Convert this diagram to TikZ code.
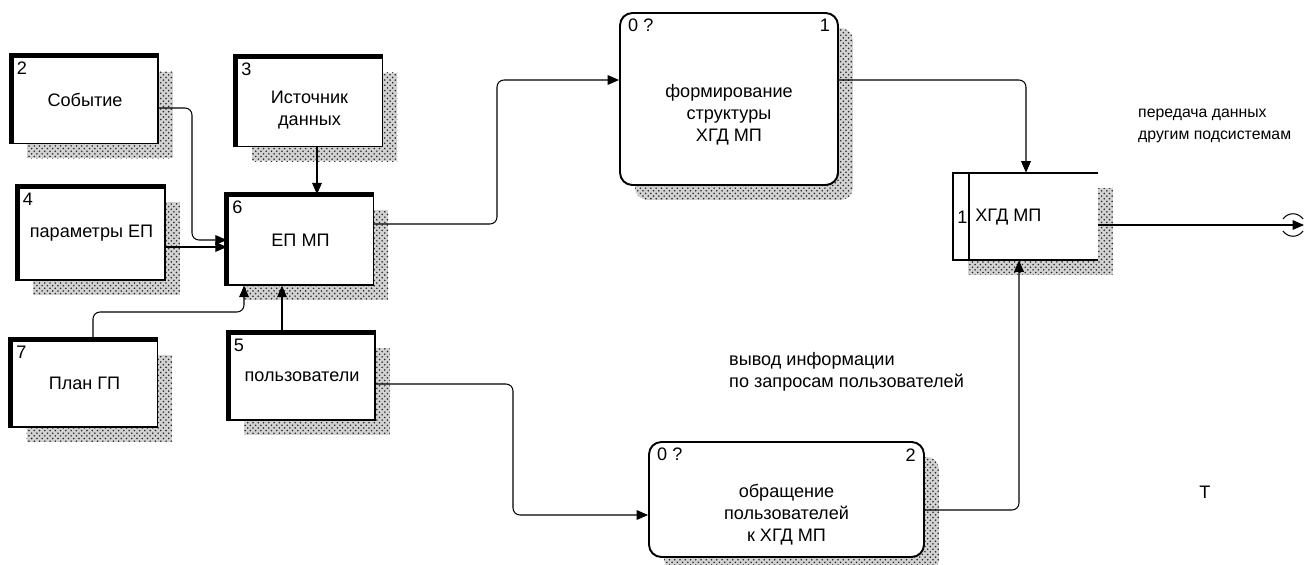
\documentclass[tikz,border=0pt]{standalone}
\usepackage{fontspec}
\setmainfont{Liberation Sans}
\usetikzlibrary{arrows.meta,shadows,patterns}
\begin{document}
\begin{tikzpicture}[x=0.02cm, y=-0.02cm, font=\fontsize{10.3}{12.6}\selectfont,
    shade/.style={drop shadow={opacity=1, shadow xshift=0.3cm, shadow yshift=-0.3cm, fill=gray!35},
                  drop shadow={opacity=1, shadow xshift=0.3cm, shadow yshift=-0.3cm, pattern=crosshatch dots, pattern color=black!85}},
    ext/.style={draw, line width=0.8pt, fill=white, shade, minimum width=2.92cm, minimum height=1.74cm, align=center},
    num/.style={anchor=north west, inner sep=0pt, xshift=3pt, yshift=-3.5pt},
    rnum/.style={anchor=north east, inner sep=0pt, xshift=-5pt, yshift=-4pt},
    proc/.style={draw, line width=1.1pt, rounded corners=7pt, fill=white, shade},
    ptext/.style={align=center, yshift=-0.31cm},
    flow/.style={-{Triangle[length=6.5pt,width=5.5pt]}, line width=0.6pt, rounded corners=4pt}]
\useasboundingbox (0,0) rectangle (1306,565);
% external entities
\node[ext, label={[num]north west:2}] (e2) at (85,100) {Событие};
\node[ext, minimum height=1.78cm, label={[num]north west:3}, label={[align=center, yshift=-0.16cm]center:Источник\\данных}] (e3) at (309.5,102) {};
\node[ext, minimum width=2.94cm, minimum height=1.86cm, label={[num]north west:4}] (e4) at (91.5,233.5) {параметры ЕП};
\node[ext, minimum height=1.8cm, label={[num]north west:6}] (e6) at (300.5,240) {ЕП МП};
\node[ext, label={[num]north west:7}] (e7) at (84.5,383.5) {План ГП};
\node[ext, label={[num]north west:5}] (e5) at (302,376.5) {пользователи};
\foreach \n in {e2,e3,e4,e6,e7,e5}
    \draw[line width=2.7pt] (\n.south west) -- (\n.north west) -- (\n.north east);
% processes
\node[proc, minimum width=4.36cm, minimum height=3.44cm,
      label={[num, xshift=2pt]north west:0 ?}, label={[rnum]north east:1},
      label={[ptext]center:формирование\\структуры\\ ХГД МП}] (p1) at (729,99) {};
\node[proc, minimum width=5.5cm, minimum height=2.3cm,
      label={[num, xshift=2pt]north west:0 ?}, label={[rnum]north east:2},
      label={[ptext]center:обращение\\пользователей\\к ХГД МП}] (p2) at (786.5,499.5) {};
% data store
\node[fill=white, shade, minimum width=2.9cm, minimum height=1.74cm] (ds) at (1025.5,216.5) {};
\draw[line width=1.1pt] (ds.north east) -- (ds.north west) -- (ds.south west) -- (ds.south east);
\draw[line width=1.1pt] ([xshift=0.32cm]ds.north west) -- ([xshift=0.32cm]ds.south west);
\node[anchor=west, inner sep=0pt] (dsn) at (957,217) {1};
\node[anchor=west, inner sep=0pt] (dst) at (975,217) {ХГД МП};
% flows
\draw[flow] (e2.east |- 0,108) -- (192,108) -- (192,240) -- (e6.west |- 0,240);
\draw[flow] (e4.east |- 0,247) -- (e6.west |- 0,247);
\draw[flow] (e3.south -| 317,0) -- (e6.north -| 317,0);
\draw[flow] (e7.north -| 93,0) -- (93,312) -- (244,312) -- (e6.south -| 244,0);
\draw[flow] (e5.north -| 282,0) -- (e6.south -| 282,0);
\draw[flow] (e6.east |- 0,224) -- (497,224) -- (497,80) -- (p1.west |- 0,80);
\draw[flow] (p1.east |- 0,80) -- (1026,80) -- (ds.north -| 1026,0);
\draw[flow] (e5.east |- 0,384) -- (513,384) -- (513,515) -- (p2.west |- 0,515);
\draw[flow] (p2.east |- 0,510) -- (1019,510) -- (ds.south -| 1019,0);
\coordinate (out) at (1304,225);
\draw[flow] (ds.east |- 0,225) -- (out);
\draw[line width=0.6pt] (1283,219) .. controls (1288,212) and (1298,212) .. (1303,219);
\draw[line width=0.6pt] (1283,231) .. controls (1288,238) and (1298,238) .. (1303,231);
% labels
\node[anchor=west, align=left, font=\fontsize{9}{12.6}\selectfont] (lout) at (1132,126) {передача данных\\другим подсистемам};
\node[anchor=west, align=left] (lreq) at (723,372) {вывод информации\\по запросам пользователей};
\node (lt) at (1205,492) {Т};
\end{tikzpicture}
\end{document}
